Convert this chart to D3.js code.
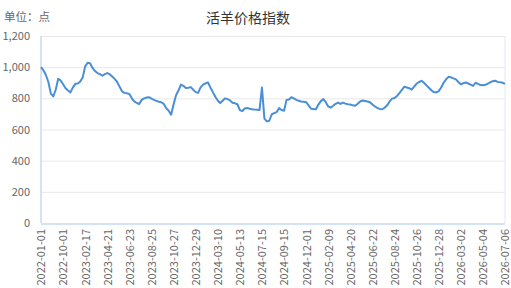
<!DOCTYPE html>
<html>
  <head>
    <meta charset="utf-8">
    <script src="https://d3js.org/d3.v7.min.js"></script>
    <title>活羊价格指数</title>
    <style>
      body { margin: 0; background: #fff; }
      text { font-family: "Noto Sans CJK SC", "Noto Sans", sans-serif; }
      .grid line { stroke: #e8e8e8; }
      .tick text { fill: #666; font-size: 11px; }
    </style>
  </head>
  <body>
    <div id="chart"></div>
    <script>
      // tick labels shown on the x axis (every 9th week)
      const tickLabels = [
        "2022-01-01", "2022-10-01", "2023-02-17", "2023-04-21", "2023-06-23",
        "2023-08-25", "2023-10-27", "2023-12-29", "2024-03-10", "2024-05-13",
        "2024-07-15", "2024-09-15", "2024-12-01", "2025-02-09", "2025-04-20",
        "2025-06-22", "2025-08-24", "2025-10-26", "2025-12-28", "2026-03-02",
        "2026-05-04", "2026-07-06"
      ];
      const LABEL_STEP = 9;

      // weekly index values
      const values = [
        1000, 980, 950, 905, 830, 812, 855, 925, 915, 890,
        865, 850, 838, 870, 893, 895, 908, 935, 1005, 1028,
        1025, 995, 975, 962, 955, 945, 955, 962, 955, 940,
        925, 905, 875, 845, 835, 832, 828, 800, 780, 770,
        764, 790, 800, 805, 807, 798, 790, 784, 778, 775,
        765, 737, 720, 695, 760, 820, 850, 888, 880, 866,
        868, 872, 855, 840, 835, 870, 888, 895, 902, 870,
        840, 810, 786, 770, 785, 800, 795, 787, 772, 768,
        762, 725, 718, 735, 738, 733, 730, 728, 727, 725,
        869, 670, 652, 656, 698, 705, 712, 737, 725, 720,
        790, 792, 807, 800, 790, 784, 780, 778, 775, 755,
        733, 731, 730, 760, 782, 795, 775, 748, 740, 752,
        765, 773, 764, 773, 766, 762, 760, 755, 752, 765,
        780, 786, 783, 780, 775, 760, 748, 738, 732, 730,
        740, 755, 780, 798, 802, 815, 833, 855, 875, 870,
        865, 856, 875, 895, 905, 912, 900, 883, 868, 852,
        840, 838, 846, 870, 900, 922, 938, 935, 928, 922,
        905, 890, 897, 902, 895, 888, 880, 900, 893, 885,
        884, 887, 895, 903, 910, 913, 905, 904, 900, 893
      ];
      const yTicks = [0, 200, 400, 600, 800, 1000, 1200];

      const W = 511, H = 288;
      const margin = { top: 36, right: 6, bottom: 65, left: 41 };

      const svg = d3.select("#chart").append("svg")
        .attr("width", W)
        .attr("height", H);

      const x = d3.scalePoint()
        .domain(d3.range(values.length))
        .range([margin.left, W - margin.right]);

      const y = d3.scaleLinear()
        .domain([0, 1200])
        .range([H - margin.bottom, margin.top]);

      // title and unit
      svg.append("text")
        .attr("x", 248).attr("y", 23)
        .attr("text-anchor", "middle")
        .attr("fill", "#333")
        .style("font-size", "14px")
        .text("活羊价格指数");

      svg.append("text")
        .attr("x", 4).attr("y", 21)
        .attr("fill", "#666")
        .style("font-size", "11.5px")
        .text("单位：点");

      // horizontal grid + y labels
      const yAxis = svg.append("g")
        .attr("class", "grid")
        .attr("transform", `translate(${margin.left},0)`)
        .call(d3.axisLeft(y)
          .tickValues(yTicks)
          .tickSize(-(W - margin.left - margin.right))
          .tickPadding(11)
          .tickFormat(d3.format(",")));
      yAxis.select(".domain").remove();

      // right border of the plot
      svg.append("line")
        .attr("x1", W - margin.right).attr("x2", W - margin.right)
        .attr("y1", margin.top).attr("y2", H - margin.bottom)
        .attr("stroke", "#e3e8f0");

      // left and bottom axis lines
      svg.append("line")
        .attr("x1", margin.left).attr("x2", margin.left)
        .attr("y1", margin.top).attr("y2", H - margin.bottom)
        .attr("stroke", "#c8daf0").attr("stroke-width", 1.5);

      svg.append("line")
        .attr("x1", margin.left).attr("x2", W - margin.right)
        .attr("y1", H - margin.bottom + 1).attr("y2", H - margin.bottom + 1)
        .attr("stroke", "#d3e2f4").attr("stroke-width", 2);

      // x axis labels
      const xAxis = svg.append("g")
        .attr("transform", `translate(0,${H - margin.bottom})`)
        .call(d3.axisBottom(x)
          .tickValues(d3.range(0, values.length, LABEL_STEP))
          .tickSize(0)
          .tickFormat(i => tickLabels[i / LABEL_STEP]));
      xAxis.select(".domain").remove();
      xAxis.selectAll("text")
        .attr("transform", "rotate(-90)")
        .attr("text-anchor", "end")
        .attr("x", -6)
        .attr("y", 0)
        .attr("dy", "0.35em");

      // the series line
      const line = d3.line()
        .x((d, i) => x(i))
        .y(d => y(d));

      svg.append("path")
        .datum(values)
        .attr("fill", "none")
        .attr("stroke", "#4a8fd6")
        .attr("stroke-width", 2)
        .attr("stroke-linejoin", "round")
        .attr("d", line);
    </script>
  </body>
</html>
